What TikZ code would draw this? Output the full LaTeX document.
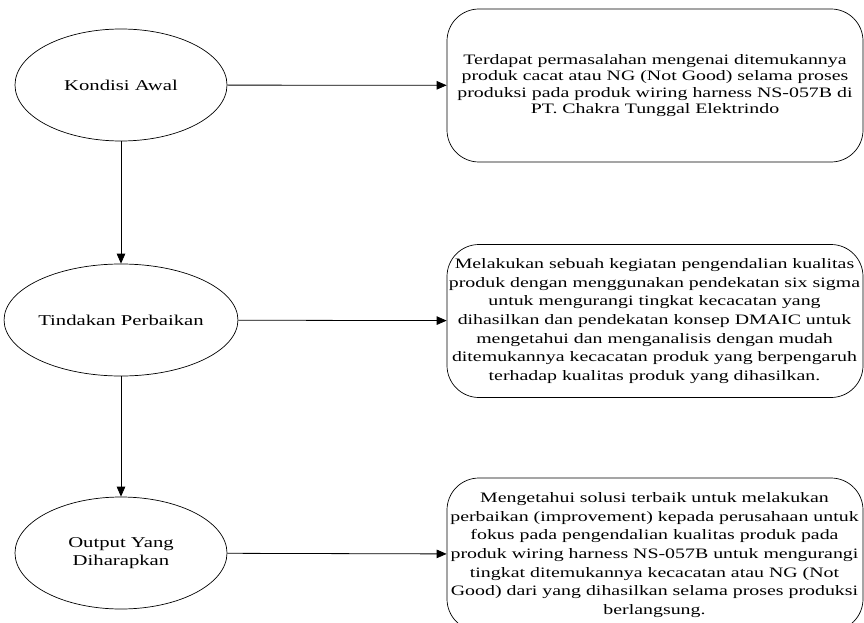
\documentclass[tikz,border=0pt]{standalone}
\usepackage{fontspec}
\setmainfont{Liberation Serif}[FakeStretch=1.38]
\usetikzlibrary{arrows.meta,shapes.geometric}
\begin{document}
\begin{tikzpicture}[x=1pt,y=-1pt,
  oval/.style={draw,line width=0.7pt,ellipse,minimum width=212pt,minimum height=112pt,inner sep=0pt,align=center,font=\fontsize{15}{18}\selectfont},
  box/.style={draw,line width=0.7pt,rounded corners=32pt,minimum width=416pt,minimum height=153pt,inner sep=0pt},
  boxtext/.style={align=center,inner sep=0pt},
  arr/.style={-{Triangle[length=10pt,width=8.5pt]},line width=0.8pt}]
\useasboundingbox (0,0) rectangle (864,623);
\node[oval] (k) at (121,85) {Kondisi Awal};
\node[oval] (t) at (121,320) {Tindakan Perbaikan};
\node[oval] (o) at (121,553) {Output Yang\\Diharapkan};
\node[box] (b1) at (655,85.5) {};
\node[box] (b2) at (655,321) {};
\node[box] (b3) at (655,554.5) {};
\node[boxtext,font=\fontsize{14.4}{16.2}\selectfont] (t1) at (b1) {Terdapat permasalahan mengenai ditemukannya\\produk cacat atau NG (Not Good) selama proses\\produksi pada produk wiring harness NS-057B di\\PT. Chakra Tunggal Elektrindo};
\node[boxtext,font=\fontsize{14.4}{18.7}\selectfont] (t2) at (654.5,321) {Melakukan sebuah kegiatan pengendalian kualitas\\produk dengan menggunakan pendekatan six sigma\\untuk mengurangi tingkat kecacatan yang\\dihasilkan dan pendekatan konsep DMAIC untuk\\mengetahui dan menganalisis dengan mudah\\ditemukannya kecacatan produk yang berpengaruh\\terhadap kualitas produk yang dihasilkan.};
\node[boxtext,font=\fontsize{14.4}{18.7}\selectfont] (t3) at (654.5,555) {Mengetahui solusi terbaik untuk melakukan\\perbaikan (improvement) kepada perusahaan untuk\\fokus pada pengendalian kualitas produk pada\\produk wiring harness NS-057B untuk mengurangi\\tingkat ditemukannya kecacatan atau NG (Not\\Good) dari yang dihasilkan selama proses produksi\\berlangsung.};
\draw[arr] (k) -- (b1);
\draw[arr] (t) -- (b2);
\draw[arr] (o) -- (b3);
\draw[arr] (k) -- (t);
\draw[arr] (t) -- (o);
\end{tikzpicture}
\end{document}
